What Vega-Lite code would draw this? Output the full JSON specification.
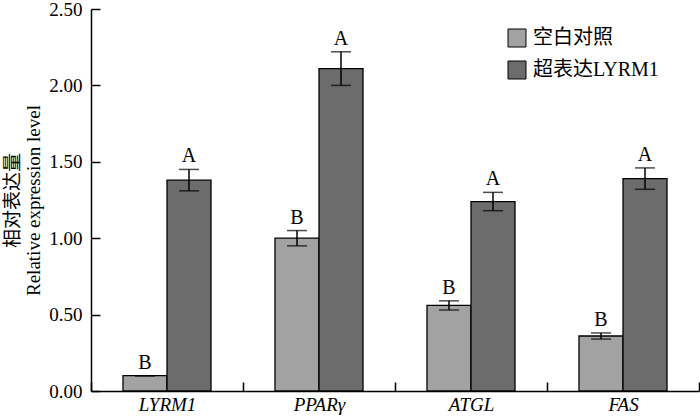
{
  "$schema": "https://vega.github.io/schema/vega-lite/v6.json",
  "autosize": {"type": "none"},
  "width": 608,
  "height": 382,
  "padding": {"left": 91, "top": 9, "right": 1, "bottom": 29},
  "background": "white",
  "config": {
    "view": {"stroke": null},
    "font": "Liberation Serif, Noto Sans CJK SC"
  },
  "data": {
    "values": [
      {"gene": "LYRM1", "group": "空白对照", "value": 0.10, "lo": 0.10, "hi": 0.10, "letter": "B"},
      {"gene": "LYRM1", "group": "超表达LYRM1", "value": 1.38, "lo": 1.31, "hi": 1.45, "letter": "A"},
      {"gene": "PPARγ", "group": "空白对照", "value": 1.00, "lo": 0.95, "hi": 1.05, "letter": "B"},
      {"gene": "PPARγ", "group": "超表达LYRM1", "value": 2.11, "lo": 2.00, "hi": 2.22, "letter": "A"},
      {"gene": "ATGL", "group": "空白对照", "value": 0.56, "lo": 0.53, "hi": 0.59, "letter": "B"},
      {"gene": "ATGL", "group": "超表达LYRM1", "value": 1.24, "lo": 1.18, "hi": 1.30, "letter": "A"},
      {"gene": "FAS", "group": "空白对照", "value": 0.36, "lo": 0.34, "hi": 0.38, "letter": "B"},
      {"gene": "FAS", "group": "超表达LYRM1", "value": 1.39, "lo": 1.32, "hi": 1.46, "letter": "A"}
    ]
  },
  "encoding": {
    "x": {
      "field": "gene",
      "type": "nominal",
      "sort": ["LYRM1", "PPARγ", "ATGL", "FAS"],
      "scale": {"paddingInner": 0, "paddingOuter": 0},
      "axis": {
        "title": null,
        "tickBand": "extent",
        "tickSize": -9,
        "tickWidth": 1.5,
        "tickColor": "black",
        "domainColor": "black",
        "domainWidth": 1.5,
        "labelAngle": 0,
        "labelFontStyle": "italic",
        "labelFontSize": 19,
        "labelColor": "black",
        "labelPadding": 13,
        "grid": false
      }
    },
    "xOffset": {
      "field": "group",
      "type": "nominal",
      "sort": ["空白对照", "超表达LYRM1"],
      "scale": {"paddingInner": 0, "paddingOuter": 0.727}
    }
  },
  "layer": [
    {
      "mark": {"type": "bar", "stroke": "black", "strokeWidth": 1.3},
      "encoding": {
        "y": {
          "field": "value",
          "type": "quantitative",
          "scale": {"domain": [0, 2.5], "nice": false},
          "axis": {
            "values": [0, 0.5, 1, 1.5, 2, 2.5],
            "format": ".2f",
            "tickSize": -9,
            "tickWidth": 1.5,
            "tickColor": "black",
            "domainColor": "black",
            "domainWidth": 1.5,
            "grid": false,
            "labelFontSize": 19,
            "labelColor": "black",
            "labelPadding": 18,
            "title": ["相对表达量", "Relative expression level"],
            "titleFontSize": 19,
            "titleFontWeight": "normal",
            "titleColor": "black",
            "titleLineHeight": 21,
            "titlePadding": 5
          }
        },
        "fill": {
          "field": "group",
          "type": "nominal",
          "scale": {"domain": ["空白对照", "超表达LYRM1"], "range": ["#a2a2a2", "#6c6c6c"]},
          "legend": {
            "title": null,
            "orient": "none",
            "legendX": 416,
            "legendY": 19,
            "symbolType": "square",
            "symbolSize": 324,
            "symbolStrokeColor": "black",
            "symbolStrokeWidth": 1,
            "labelFontSize": 20,
            "labelColor": "black",
            "labelOffset": 6,
            "labelLimit": 300,
            "rowPadding": 10
          }
        }
      }
    },
    {
      "mark": {"type": "rule", "strokeWidth": 1.5, "color": "black"},
      "encoding": {
        "y": {"field": "lo", "type": "quantitative"},
        "y2": {"field": "hi"}
      }
    },
    {
      "mark": {"type": "tick", "size": 20, "thickness": 1.5, "color": "black"},
      "encoding": {"y": {"field": "hi", "type": "quantitative"}}
    },
    {
      "mark": {"type": "tick", "size": 20, "thickness": 1.5, "color": "black"},
      "encoding": {"y": {"field": "lo", "type": "quantitative"}}
    },
    {
      "mark": {"type": "text", "baseline": "bottom", "dy": -3, "fontSize": 20, "color": "black"},
      "encoding": {
        "y": {"field": "hi", "type": "quantitative"},
        "text": {"field": "letter"}
      }
    }
  ]
}
